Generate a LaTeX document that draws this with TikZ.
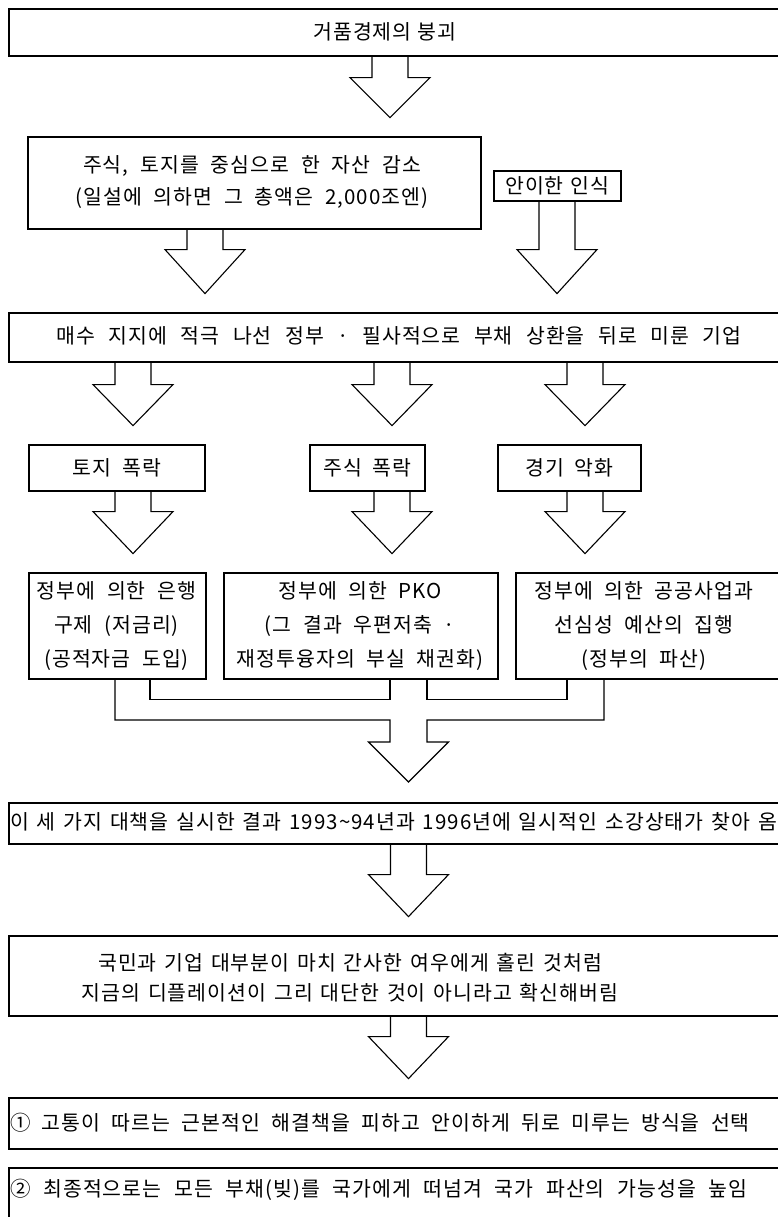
\documentclass[tikz,border=0pt]{standalone}
\usepackage{fontspec}
\newfontfamily\kr[LetterSpace=5,WordSpace=2]{Noto Sans CJK KR}
\newfontfamily\krt[LetterSpace=5,WordSpace=1.1]{Noto Sans CJK KR}
\newcommand\sx[1]{\spaceskip=\dimexpr\fontdimen2\font+#1pt\relax}
\newcommand\fz[2]{\fontsize{20.5pt}{#1pt}\selectfont\sx{#2}}
\tikzset{
  box/.style={draw=black, line width=1.6pt, fill=none, anchor=north west, inner sep=0pt},
  txt/.style={inner sep=0pt, align=center, font=\kr\fz{26}{5}},
  arr/.style={draw=black, line width=1.1pt, line join=miter},
  conn/.style={draw=black, line width=1.1pt},
  pics/barrow/.style n args={2}{code={
    \draw[arr] (-18,0) -- (-18,#1) -- (-40,#1) -- (0,#2) -- (40,#1) -- (18,#1) -- (18,0);
  }}
}
\begin{document}
\begin{tikzpicture}[x=1pt,y=-1pt]
\clip (0,0) rectangle (778,1217);
\fill[white] (0,0) rectangle (778,1217);
% boxes
\node[box, minimum width=800pt, minimum height=47pt] (b1) at (8,8) {};
\node[box, minimum width=453pt, minimum height=92pt] (b2) at (27,136) {};
\node[box, minimum width=127pt, minimum height=30pt] (b2r) at (493,170) {};
\node[box, minimum width=800pt, minimum height=49pt] (b3) at (8,312) {};
\node[box, minimum width=176pt, minimum height=46pt] (b4a) at (28,444) {};
\node[box, minimum width=115pt, minimum height=46pt] (b4b) at (309,444) {};
\node[box, minimum width=143pt, minimum height=46pt] (b4c) at (497,444) {};
\node[box, minimum width=177pt, minimum height=106pt] (b5a) at (28,572) {};
\node[box, minimum width=274pt, minimum height=106pt] (b5b) at (223,572) {};
\node[box, minimum width=300pt, minimum height=106pt] (b5c) at (515,572) {};
\node[box, minimum width=800pt, minimum height=41pt] (b6) at (8,802) {};
\node[box, minimum width=800pt, minimum height=80pt] (b7) at (8,935) {};
\node[box, minimum width=800pt, minimum height=51pt] (b8) at (8,1097) {};
\node[box, minimum width=800pt, minimum height=80pt] (b9) at (8,1167) {};
% texts
\node[txt, font=\kr\fz{26}{0}] (t1) at (385,32) {거품경제의 붕괴};
\node[txt, font=\kr\fz{32}{5.6}] (t2) at (252,182) {주식, 토지를 중심으로 한 자산 감소\\(일설에 의하면 그 총액은 2,000조엔)};
\node[txt, font=\krt\fz{26}{0}] (t2r) at (b2r.center) {안이한 인식};
\node[txt, font=\kr\fz{26}{6.6}] (t3) at (399,336) {매수 지지에 적극 나선 정부 · 필사적으로 부채 상환을 뒤로 미룬 기업};
\node[txt, font=\kr\fz{26}{4}] (t4a) at (b4a.center) {토지 폭락};
\node[txt, font=\kr\fz{26}{4}] (t4b) at (b4b.center) {주식 폭락};
\node[txt, font=\kr\fz{26}{4}] (t4c) at (b4c.center) {경기 악화};
\node[txt, font=\kr\fz{34}{4.7}] (t5a) at (116.5,626) {정부에 의한 은행\\구제 (저금리)\\(공적자금 도입)};
\node[txt, font=\kr\fz{34}{4.7}] (t5b) at (360,626) {정부에 의한 PKO\\(그 결과 우편저축 ·\\재정투융자의 부실 채권화)};
\node[txt, font=\kr\fz{34}{4.7}] (t5c) at (644,626) {정부에 의한 공공사업과\\선심성 예산의 집행\\(정부의 파산)};
\node[txt, anchor=west, font=\krt\fz{26}{1}] (t6) at (10,822) {이 세 가지 대책을 실시한 결과 1993\textasciitilde94년과 1996년에 일시적인 소강상태가 찾아 옴};
\node[txt, font=\krt\fz{30}{1}] (t7) at (350,978) {국민과 기업 대부분이 마치 간사한 여우에게 홀린 것처럼\\지금의 디플레이션이 그리 대단한 것이 아니라고 확신해버림};
\node[txt, anchor=west, font=\kr\fz{26}{4.5}] (t8) at (10,1123) {① 고통이 따르는 근본적인 해결책을 피하고 안이하게 뒤로 미루는 방식을 선택};
\node[txt, anchor=west, font=\kr\fz{26}{5.8}] (t9) at (10,1190) {② 최종적으로는 모든 부채(빚)를 국가에게 떠넘겨 국가 파산의 가능성을 높임};
% block arrows
\pic at (b1.south -| 390,0) {barrow={21}{61}};
\pic at (b2.south -| 205,0) {barrow={20}{64}};
\pic at (b2r.south -| 557,0) {barrow={48}{92}};
\pic at (b3.south -| 133,0) {barrow={22}{63}};
\pic at (b3.south -| 392,0) {barrow={22}{63}};
\pic at (b3.south -| 585,0) {barrow={22}{63}};
\pic at (b4a.south -| 133,0) {barrow={20}{62}};
\pic at (b4b.south -| 392,0) {barrow={20}{62}};
\pic at (b4c.south -| 585,0) {barrow={20}{62}};
\pic at (b6.south -| 408.5,0) {barrow={30}{72}};
\pic at (b7.south -| 408.5,0) {barrow={20}{62}};
% merging connectors
\draw[conn] (b5a.south -| 150,0) -- ++(0,20) -| (b5b.south -| 390,0);
\draw[conn] (b5b.south -| 427,0) -- ++(0,20) -| (b5c.south -| 567,0);
\draw[arr] (b5a.south -| 115,0) |- (390,720) -- (390,742) -- (368.5,742) -- (408.5,782) -- (448.5,742) -- (427,742) -- (427,720) -| (b5c.south -| 604,0);
\end{tikzpicture}
\end{document}
